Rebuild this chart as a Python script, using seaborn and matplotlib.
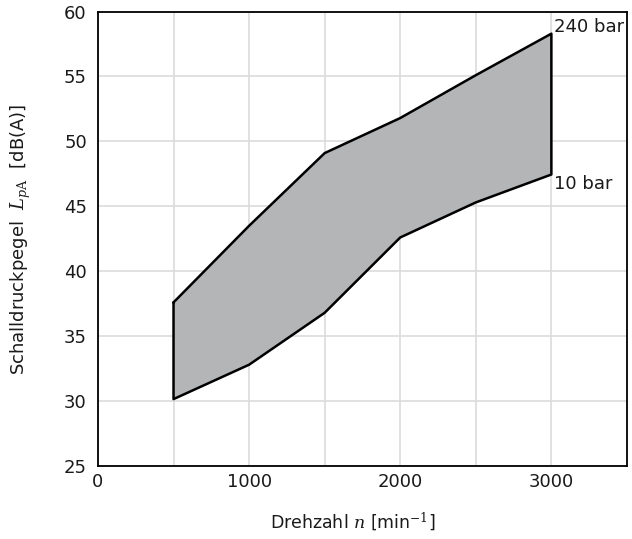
import matplotlib
matplotlib.use("Agg")
import matplotlib.pyplot as plt
import seaborn as sns
import numpy as np
import pandas as pd

# Data
drehzahl = [500, 1000, 1500, 2000, 2500, 3000]
pegel_240bar = [37.6, 43.5, 49.1, 51.8, 55.1, 58.3]
pegel_10bar = [30.15, 32.8, 36.8, 42.6, 45.3, 47.45]
x_ticks = [0, 1000, 2000, 3000]
y_ticks = [25, 30, 35, 40, 45, 50, 55, 60]
series_labels = ["240 bar", "10 bar"]

sns.set_theme(style="white")
plt.rcParams["font.family"] = ["DejaVu Sans"]
plt.rcParams["mathtext.fontset"] = "dejavuserif"

fig = plt.figure(figsize=(6.32, 5.39), dpi=100)
ax = fig.add_axes([0.155, 0.1355, 0.837, 0.843])

# closed outline built from the data
outline = pd.DataFrame({
    "n": drehzahl + drehzahl[::-1] + [drehzahl[0]],
    "L": pegel_240bar + pegel_10bar[::-1] + [pegel_240bar[0]],
})
ax.fill_between(drehzahl, pegel_10bar, pegel_240bar, color="#b4b5b7", lw=0, zorder=2)
sns.lineplot(data=outline, x="n", y="L", sort=False, estimator=None,
             color="black", lw=1.8, ax=ax, zorder=3)

txt = "#1a1a1a"
ax.set_xlim(0, 3500)
ax.set_ylim(25, 60)
grid_x = np.arange(0, 3501, 500)
ax.set_xticks(grid_x)
ax.set_xticklabels([str(v) if v in x_ticks else "" for v in grid_x])
ax.set_yticks(y_ticks)
ax.set_yticklabels([str(v) for v in y_ticks])
ax.grid(True, color="#dcdcdc", lw=1.2, zorder=1)
ax.set_axisbelow(True)
ax.tick_params(axis="both", length=0, labelsize=13, colors=txt)
ax.tick_params(axis="y", pad=8)
ax.tick_params(axis="x", pad=5)
for s in ax.spines.values():
    s.set_color("black")
    s.set_linewidth(1.3)

ax.annotate(series_labels[0], (drehzahl[-1], pegel_240bar[-1]), xytext=(3, 7),
            textcoords="offset pixels", fontsize=13, ha="left", va="center", color=txt)
ax.annotate(series_labels[1], (drehzahl[-1], pegel_10bar[-1]), xytext=(3, -9),
            textcoords="offset pixels", fontsize=13, ha="left", va="center", color=txt)

ax.set_xlabel(r"Drehzahl $n$ [min$^{-1}$]", fontsize=12.5, color=txt)
ax.xaxis.set_label_coords(0.482, -0.097)
ax.set_ylabel(r"Schalldruckpegel  $L_{p\mathrm{A}}$  [dB(A)]", fontsize=13, color=txt, labelpad=22)

fig.savefig("out.png", dpi=100)
